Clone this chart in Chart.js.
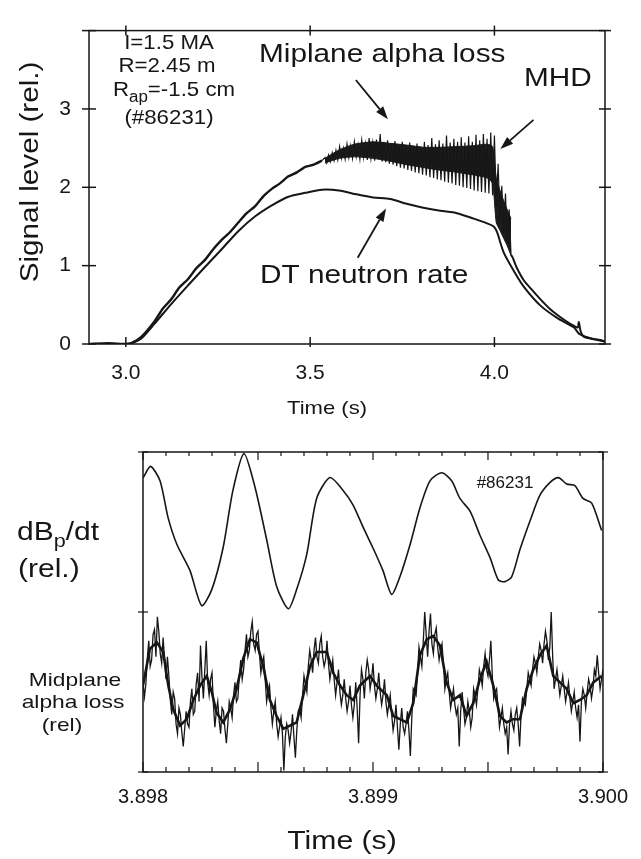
<!DOCTYPE html>
<html><head><meta charset="utf-8">
<script src="https://cdn.jsdelivr.net/npm/chart.js@4.4.1/dist/chart.umd.min.js"></script>
<style>
html,body{margin:0;padding:0;background:#fff;}
#wrap{position:relative;width:641px;height:859px;overflow:hidden;background:#fff;}
canvas{position:absolute;left:0;}
#c1{top:0;} #c2{top:430px;}
</style></head><body>
<div id="wrap"><canvas id="c1" width="641" height="430"></canvas><canvas id="c2" width="641" height="429"></canvas></div>
<script>
// ---------- TOP PANEL DATA (time in s, signal level rel.) ----------
const neutronTime = [2.90,2.95,3.00,3.015,3.042,3.078,3.123,3.169,3.214,3.260,3.305,3.351,3.396,3.441,3.487,3.532,3.578,3.626,3.671,3.717,3.762,3.807,3.853,3.898,3.944,3.980,3.998,4.007,4.025,4.053,4.080,4.125,4.171,4.216,4.230,4.262,4.300];
const neutronRate = [0.00,0.00,0.00,0.01,0.07,0.26,0.51,0.75,0.98,1.21,1.44,1.63,1.77,1.88,1.93,1.97,1.96,1.91,1.87,1.85,1.79,1.74,1.70,1.67,1.60,1.54,1.50,1.43,1.17,0.93,0.73,0.49,0.33,0.21,0.13,0.07,0.03];

const alphaRiseTime = [2.90,2.95,3.00,3.015,3.042,3.078,3.10,3.123,3.145,3.169,3.19,3.214,3.237,3.260,3.283,3.305,3.328,3.351,3.374,3.396,3.418,3.441,3.464,3.487,3.51,3.532];
const alphaRiseLevel = [0.00,0.01,0.00,0.01,0.09,0.29,0.45,0.57,0.72,0.83,0.96,1.07,1.21,1.33,1.43,1.55,1.67,1.76,1.89,1.98,2.05,2.14,2.19,2.26,2.29,2.34];

// MHD-modulated part: digitised at a fixed sampling interval
const alphaNoisyStart = 3.540;
const alphaNoisyStep = 0.005;
const alphaNoisyLevel = [2.38,2.31,2.41,2.33,2.44,2.34,2.47,2.35,2.52,2.37,
 2.50,2.36,2.55,2.38,2.53,2.37,2.58,2.39,2.54,2.36,
 2.60,2.38,2.56,2.35,2.63,2.37,2.57,2.34,2.61,2.36,
 2.68,2.33,2.58,2.32,2.60,2.30,2.56,2.29,2.59,2.27,
 2.55,2.25,2.58,2.24,2.54,2.22,2.57,2.21,2.53,2.19,
 2.56,2.18,2.52,2.16,2.58,2.15,2.54,2.13,2.63,2.12,
 2.55,2.10,2.60,2.09,2.56,2.07,2.66,2.06,2.57,2.05,
 2.62,2.03,2.58,2.02,2.64,2.00,2.57,1.99,2.65,1.98,
 2.58,1.96,2.67,1.95,2.60,1.94,2.68,1.93,2.62,1.92,
 2.70,1.90,2.66,1.76,2.30,1.58,2.02,1.42,1.92,1.28,
 1.72,1.14];

// dense (solid-looking) core of the MHD band
const bandTime  = [3.540,3.580,3.620,3.670,3.720,3.760,3.810,3.850,3.900,3.940,3.980,3.995,4.005,4.015,4.025,4.035,4.045];
const bandUpper = [2.37,2.48,2.55,2.58,2.56,2.54,2.51,2.51,2.52,2.53,2.55,2.52,2.12,1.96,1.83,1.71,1.60];
const bandLower = [2.31,2.37,2.39,2.37,2.33,2.29,2.25,2.22,2.19,2.16,2.12,2.05,1.55,1.45,1.35,1.25,1.13];

const alphaDecayTime = [4.050,4.060,4.080,4.100,4.125,4.150,4.171,4.195,4.216,4.226,4.229,4.234,4.243,4.262,4.289,4.300];
const alphaDecayLevel = [1.10,0.98,0.81,0.70,0.57,0.45,0.37,0.29,0.23,0.21,0.28,0.16,0.09,0.07,0.05,0.03];

const topTimeTicks = [3.0, 3.5, 4.0];
const topLevelTicks = [0, 1, 2, 3];

// ---------- BOTTOM PANEL DATA ----------
const dbTime = [3.898001,3.898033,3.898074,3.898109,3.898148,3.898204,3.898255,3.898299,3.898348,3.898391,3.898439,3.898487,3.898538,3.898581,3.898632,3.898668,3.898712,3.898755,3.898813,3.898870,3.898913,3.898957,3.899000,3.899043,3.899081,3.899117,3.899161,3.899204,3.899248,3.899299,3.899342,3.899378,3.899422,3.899465,3.899509,3.899545,3.899574,3.899603,3.899639,3.899683,3.899726,3.899770,3.899806,3.899842,3.899878,3.899913,3.899951,3.899994];
const dbLevel = [0.84,0.91,0.82,0.59,0.42,0.26,0.04,0.14,0.40,0.76,0.99,0.78,0.45,0.16,0.02,0.14,0.36,0.71,0.84,0.76,0.67,0.53,0.40,0.26,0.11,0.22,0.42,0.65,0.82,0.87,0.82,0.71,0.63,0.48,0.34,0.20,0.19,0.22,0.39,0.57,0.73,0.81,0.84,0.80,0.79,0.71,0.68,0.51];

// midplane alpha loss, digitised at a fixed sampling interval (0 = bottom, 100 = top of its panel)
const lossStart = 3.898;
const lossStep = 0.00000625;
const lossLevel = [
 56,47,55,71,82,66,70,86,89,72,97,88,74,68,84,70,58,72,60,45,
 36,50,46,30,24,40,36,25,16,27,38,30,28,44,52,36,38,55,62,44,
 79,60,46,64,82,56,48,58,62,42,28,38,44,32,24,40,38,27,18,30,
 44,40,34,48,56,44,46,60,70,58,64,76,86,72,76,88,94,80,76,86,
 88,74,62,68,72,58,44,50,54,40,30,38,44,30,22,28,34,24,1,22,
 30,26,18,25,36,22,9,26,38,40,34,48,60,55,50,66,76,70,62,76,
 84,72,68,80,85,72,66,70,82,68,58,64,70,58,48,56,64,50,42,48,
 58,46,38,44,54,42,34,42,56,40,18,48,64,58,46,62,70,64,52,58,
 68,54,46,52,62,50,42,48,58,44,36,42,48,36,26,32,42,28,14,30,
 40,28,24,30,38,26,10,34,52,50,48,62,78,72,66,82,100,86,72,88,
 99,80,74,86,90,78,70,76,80,68,52,58,62,50,40,46,52,42,36,40,
 16,38,50,40,30,34,44,38,28,34,52,48,42,52,64,60,54,66,74,64,
 60,70,82,60,46,50,52,40,28,34,40,30,24,28,11,30,38,30,26,36,
 40,30,16,36,46,44,42,52,62,58,54,64,72,68,62,72,80,76,68,80,
 88,82,70,78,100,72,52,58,64,56,48,54,60,52,44,50,56,46,38,44,
 50,40,34,42,19,44,52,48,40,50,58,54,46,52,64,60,73,62,52,58,
 64];

// local mean of the alpha-loss trace (the dense dark core)
const lossTrendTime = [3.898000,3.898030,3.898060,3.898088,3.898110,3.898132,3.898161,3.898190,3.898219,3.898248,3.898277,3.898299,3.898320,3.898349,3.898378,3.898407,3.898436,3.898465,3.898494,3.898523,3.898552,3.898581,3.898610,3.898639,3.898668,3.898697,3.898726,3.898755,3.898799,3.898827,3.898857,3.898886,3.898914,3.898943,3.898987,3.899016,3.899060,3.899088,3.899117,3.899147,3.899175,3.899204,3.899234,3.899262,3.899291,3.899320,3.899349,3.899378,3.899407,3.899436,3.899465,3.899494,3.899523,3.899552,3.899581,3.899610,3.899639,3.899668,3.899697,3.899726,3.899755,3.899784,3.899813,3.899842,3.899871,3.899900,3.899929,3.899958,3.899994];
const lossTrendLevel = [54,77,81,75,54,39,29,33,45,54,60,50,37,31,39,52,71,83,81,66,45,35,27,29,31,48,66,75,75,62,54,48,45,54,60,54,48,35,33,31,43,73,83,85,79,56,45,48,35,43,58,69,54,35,31,33,33,52,64,73,79,60,56,52,43,45,48,56,60];

const bottomTimeTicks = [3.898, 3.899, 3.900];
const bottomMinorStep = 0.0001;

// ---------- helpers ----------
const INK = '#161616';
const FONT = '"Liberation Sans", Arial, Helvetica, sans-serif';
const pts = (xs, ys) => xs.map((x, i) => ({x: x, y: ys[i]}));
const sampled = (t0, dt, ys) => ys.map((y, i) => ({x: t0 + i * dt, y: y}));

// runs: [text, size, dy]; sx = horizontal stretch of the printed lettering
function drawRuns(ctx, runs, x, y, align, sx) {
  sx = sx || 1;
  ctx.save();
  ctx.fillStyle = INK;
  ctx.textBaseline = 'alphabetic';
  ctx.textAlign = 'left';
  let total = 0;
  const ws = runs.map(r => { ctx.font = r[1] + 'px ' + FONT; const w = ctx.measureText(r[0]).width; total += w; return w; });
  const start = align === 'center' ? x - total * sx / 2 : (align === 'right' ? x - total * sx : x);
  ctx.translate(start, y);
  ctx.scale(sx, 1);
  let cx = 0;
  runs.forEach((r, i) => { ctx.font = r[1] + 'px ' + FONT; ctx.fillText(r[0], cx, (r[2] || 0)); cx += ws[i]; });
  ctx.restore();
}
function arrow(ctx, x1, y1, x2, y2) {
  const ang = Math.atan2(y2 - y1, x2 - x1), L = 13, W = 4.5;
  const bx = x2 - L * Math.cos(ang), by = y2 - L * Math.sin(ang);
  ctx.save();
  ctx.strokeStyle = INK; ctx.fillStyle = INK; ctx.lineWidth = 1.8;
  ctx.beginPath(); ctx.moveTo(x1, y1); ctx.lineTo(bx, by); ctx.stroke();
  ctx.beginPath(); ctx.moveTo(x2, y2);
  ctx.lineTo(bx + W * Math.sin(ang), by - W * Math.cos(ang));
  ctx.lineTo(bx - W * Math.sin(ang), by + W * Math.cos(ang));
  ctx.closePath(); ctx.fill();
  ctx.restore();
}
function seg(ctx, x1, y1, x2, y2) { ctx.beginPath(); ctx.moveTo(x1, y1); ctx.lineTo(x2, y2); ctx.stroke(); }

// ---------- top chart ----------
const topArrows = [
  [3.624, 3.37, 3.711, 2.87],
  [4.106, 2.86, 4.016, 2.49],
  [3.629, 1.10, 3.706, 1.73]
];
const topDecor = {
  id: 'topDecor',
  afterDraw(chart) {
    const {ctx, chartArea: a, scales: {x, y}} = chart;
    ctx.save();
    ctx.strokeStyle = INK; ctx.lineWidth = 1.5;
    ctx.strokeRect(a.left, a.top, a.right - a.left, a.bottom - a.top);
    topLevelTicks.concat([y.max]).forEach(v => {
      const py = y.getPixelForValue(v);
      seg(ctx, a.left - 7, py, a.left + 7, py);
      seg(ctx, a.right - 6, py, a.right + 6, py);
    });
    topTimeTicks.forEach(v => {
      const px = x.getPixelForValue(v);
      seg(ctx, px, a.bottom - 7, px, a.bottom + 3);
      seg(ctx, px, a.top - 5, px, a.top + 5);
    });
    ctx.restore();
    topArrows.forEach(r => arrow(ctx, x.getPixelForValue(r[0]), y.getPixelForValue(r[1]), x.getPixelForValue(r[2]), y.getPixelForValue(r[3])));
    drawRuns(ctx, [['I=1.5 MA', 21]], 169, 49, 'center', 1.06);
    drawRuns(ctx, [['R=2.45 m', 21]], 167, 72, 'center', 1.06);
    drawRuns(ctx, [['R', 21], ['ap', 16, 6], ['=-1.5 cm', 21]], 174, 96, 'center', 1.06);
    drawRuns(ctx, [['(#86231)', 21]], 169, 124, 'center', 1.06);
    drawRuns(ctx, [['Miplane alpha loss', 25]], 259, 62, 'left', 1.19);
    drawRuns(ctx, [['MHD', 25]], 524, 86, 'left', 1.19);
    drawRuns(ctx, [['DT neutron rate', 25]], 260, 283, 'left', 1.19);
    drawRuns(ctx, [['Time (s)', 19]], 327, 414, 'center', 1.16);
    ctx.save();
    ctx.translate(30, 172); ctx.rotate(-Math.PI / 2);
    drawRuns(ctx, [['Signal level (rel.)', 26]], 0, 8, 'center', 1.14);
    ctx.restore();
  }
};

const riseData = pts(alphaRiseTime, alphaRiseLevel);
const noisyData = [riseData[riseData.length - 1]].concat(sampled(alphaNoisyStart, alphaNoisyStep, alphaNoisyLevel));
const decayData = [noisyData[noisyData.length - 1]].concat(pts(alphaDecayTime, alphaDecayLevel));

new Chart(document.getElementById('c1'), {
  type: 'line',
  data: { datasets: [
    {label: 'DT neutron rate', data: pts(neutronTime, neutronRate), borderColor: INK, borderWidth: 2, pointRadius: 0, tension: 0.25, fill: false},
    {label: 'Miplane alpha loss (rise)', data: riseData, borderColor: INK, borderWidth: 2.4, pointRadius: 0, tension: 0.2, fill: false},
    {label: 'Miplane alpha loss (MHD)', data: noisyData, borderColor: INK, borderWidth: 1.2, pointRadius: 0, tension: 0, fill: false},
    {label: 'band upper', data: pts(bandTime, bandUpper), borderColor: INK, borderWidth: 1, pointRadius: 0, tension: 0.2, fill: '+1', backgroundColor: '#1c1c1c'},
    {label: 'band lower', data: pts(bandTime, bandLower), borderColor: INK, borderWidth: 1, pointRadius: 0, tension: 0.2, fill: false},
    {label: 'Miplane alpha loss (decay)', data: decayData, borderColor: INK, borderWidth: 2, pointRadius: 0, tension: 0.2, fill: false}
  ]},
  options: {
    responsive: false, animation: false,
    plugins: {legend: {display: false}, tooltip: {enabled: false}},
    layout: {padding: {left: 0, top: 13, right: 36, bottom: 0}},
    scales: {
      x: {type: 'linear', min: 2.9, max: 4.3,
        grid: {display: false, drawTicks: false}, border: {display: false},
        afterBuildTicks: s => { s.ticks = topTimeTicks.map(v => ({value: v})); },
        afterFit: s => { s.height = 86; },
        ticks: {padding: 17, color: INK, maxRotation: 0, autoSkip: false, font: {family: FONT, size: 21}, callback: v => Number(v).toFixed(1)}},
      y: {type: 'linear', min: 0, max: 4,
        grid: {display: false, drawTicks: false}, border: {display: false},
        afterBuildTicks: s => { s.ticks = topLevelTicks.map(v => ({value: v})); },
        afterFit: s => { s.width = 89; },
        ticks: {padding: 18, color: INK, font: {family: FONT, size: 21}, callback: v => String(v)}}
    }
  },
  plugins: [topDecor]
});

// ---------- bottom chart ----------
const bottomDecor = {
  id: 'bottomDecor',
  afterDraw(chart) {
    const {ctx, chartArea: a, scales: {x, yA}} = chart;
    ctx.save();
    ctx.strokeStyle = INK; ctx.lineWidth = 1.5;
    ctx.strokeRect(a.left, a.top, a.right - a.left, a.bottom - a.top);
    ctx.lineWidth = 1.2;
    const n = Math.round((x.max - x.min) / bottomMinorStep);
    for (let i = 0; i <= n; i++) {
      const px = x.getPixelForValue(x.min + i * bottomMinorStep);
      const major = i % 5 === 0;
      seg(ctx, px, a.bottom, px, a.bottom - (major ? 10 : 5));
      seg(ctx, px, a.top, px, a.top + (major ? 8 : 4));
    }
    [a.top, yA.getPixelForValue(0), a.bottom].forEach(py => {
      seg(ctx, a.left - 5, py, a.left + 5, py);
      seg(ctx, a.right - 5, py, a.right + 5, py);
    });
    ctx.restore();
    drawRuns(ctx, [['dB', 25], ['p', 18, 7], ['/dt', 25]], 17, 110, 'left', 1.2);
    drawRuns(ctx, [['(rel.)', 25]], 18, 147, 'left', 1.2);
    drawRuns(ctx, [['Midplane', 19]], 75, 256, 'center', 1.2);
    drawRuns(ctx, [['alpha loss', 19]], 73, 278, 'center', 1.2);
    drawRuns(ctx, [['(rel)', 19]], 62, 301, 'center', 1.2);
    drawRuns(ctx, [['#86231', 17]], 505, 58, 'center', 1.0);
    drawRuns(ctx, [['Time (s)', 26]], 342, 419, 'center', 1.16);
  }
};

new Chart(document.getElementById('c2'), {
  type: 'line',
  data: { datasets: [
    {label: 'dBp/dt', yAxisID: 'yA', data: pts(dbTime, dbLevel), borderColor: INK, borderWidth: 1.6, pointRadius: 0, tension: 0.25, fill: false},
    {label: 'Midplane alpha loss', yAxisID: 'yB', data: sampled(lossStart, lossStep, lossLevel), borderColor: INK, borderWidth: 1.3, pointRadius: 0, tension: 0, fill: false},
    {label: 'Midplane alpha loss (mean)', yAxisID: 'yB', data: pts(lossTrendTime, lossTrendLevel), borderColor: INK, borderWidth: 2.6, pointRadius: 0, tension: 0, fill: false}
  ]},
  options: {
    responsive: false, animation: false,
    plugins: {legend: {display: false}, tooltip: {enabled: false}},
    layout: {padding: {left: 143, top: 22, right: 38, bottom: 0}},
    scales: {
      x: {type: 'linear', min: 3.898, max: 3.900,
        grid: {display: false, drawTicks: false}, border: {display: false},
        afterBuildTicks: s => { s.ticks = bottomTimeTicks.map(v => ({value: v})); },
        afterFit: s => { s.height = 87; },
        ticks: {padding: 13, color: INK, maxRotation: 0, autoSkip: false, font: {family: FONT, size: 20}, callback: v => Number(v).toFixed(3)}},
      yA: {type: 'linear', display: false, min: -1, max: 1},
      yB: {type: 'linear', display: false, min: 0, max: 200}
    }
  },
  plugins: [bottomDecor]
});
</script>
</body></html>
